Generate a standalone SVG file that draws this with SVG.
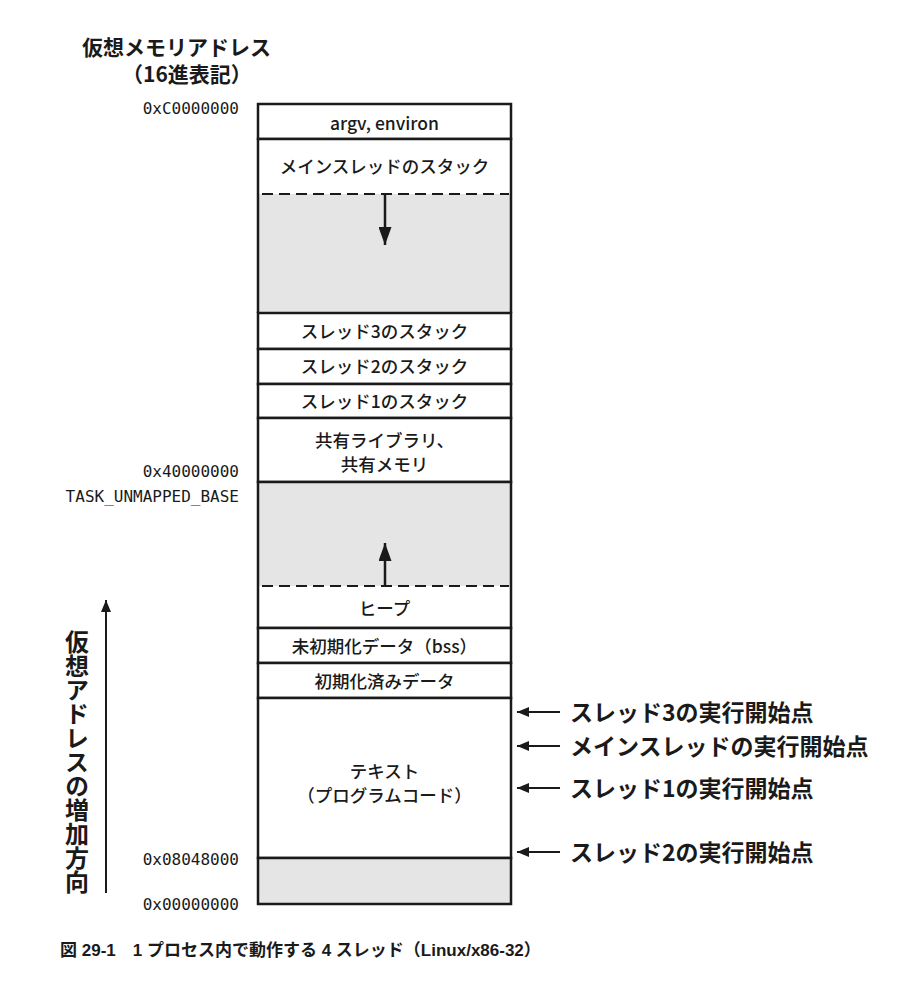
<svg xmlns="http://www.w3.org/2000/svg" width="904" height="992" viewBox="0 0 904 992">
<style>
.box{fill:#ffffff;stroke:#1a1a1a;stroke-width:2.5}
.open{fill:#ffffff;stroke:none}
.gray{fill:#e5e5e5;stroke:none}
.edge{stroke:#1a1a1a;stroke-width:2.5;fill:none}
.dash{stroke:#1a1a1a;stroke-width:2;stroke-dasharray:11 6;fill:none}
.lbl{font-family:"Noto Sans CJK JP","Noto Sans",sans-serif;font-size:17.5px;font-weight:500;fill:#1a1a1a;text-anchor:middle}
.addr{font-family:"DejaVu Sans Mono","Liberation Mono",monospace;font-size:16px;fill:#1a1a1a;text-anchor:end}
.side{font-family:"Noto Sans CJK JP",sans-serif;font-size:23px;font-weight:700;fill:#1a1a1a}
.title{font-family:"Noto Sans CJK JP",sans-serif;font-size:21px;font-weight:700;fill:#1a1a1a}
.cap{font-family:"Liberation Sans","Noto Sans CJK JP",sans-serif;font-size:17px;font-weight:700;fill:#1a1a1a}
.ln{stroke:#1a1a1a;stroke-width:2;fill:none}
.lnb{stroke:#1a1a1a;stroke-width:2.5;fill:none}
.ah{fill:#1a1a1a}
</style>
<defs>
<marker id="arr" viewBox="0 0 12 10" refX="12" refY="5" markerWidth="12" markerHeight="10" markerUnits="userSpaceOnUse" orient="auto">
<path d="M0,0 L12,5 L0,10 Z" class="ah"/>
</marker>
<marker id="arrb" viewBox="0 0 18 13" refX="18" refY="6.5" markerWidth="18" markerHeight="13" markerUnits="userSpaceOnUse" orient="auto">
<path d="M0,0 L18,6.5 L0,13 Z" class="ah"/>
</marker>
</defs>

<g id="title">
<text class="title" x="82" y="55">仮想メモリアドレス</text>
<text class="title" x="122" y="82">（16進表記）</text>
</g>

<g id="addresses">
<text class="addr" x="239" y="114">0xC0000000</text>
<text class="addr" x="239" y="477">0x40000000</text>
<text class="addr" x="239" y="502">TASK_UNMAPPED_BASE</text>
<text class="addr" x="239" y="865">0x08048000</text>
<text class="addr" x="239" y="910">0x00000000</text>
</g>

<g id="node-argv">
<rect class="box" x="258" y="104" width="253" height="35"/>
<text class="lbl" x="384.5" y="130">argv, environ</text>
</g>
<g id="node-mainstack">
<rect class="open" x="258" y="139" width="253" height="55"/>
<path class="edge" d="M258,194 V139 H511 V194"/>
<text class="lbl" x="384.5" y="173">メインスレッドのスタック</text>
</g>
<g id="node-gap1">
<rect class="gray" x="258" y="194" width="253" height="119"/>
<path class="edge" d="M258,194 V313 M511,194 V313"/>
<line class="dash" x1="262" y1="194" x2="509" y2="194"/>
</g>
<g id="node-t3stack">
<rect class="box" x="258" y="313" width="253" height="36"/>
<text class="lbl" x="384.5" y="338">スレッド3のスタック</text>
</g>
<g id="node-t2stack">
<rect class="box" x="258" y="349" width="253" height="35"/>
<text class="lbl" x="384.5" y="373">スレッド2のスタック</text>
</g>
<g id="node-t1stack">
<rect class="box" x="258" y="384" width="253" height="34"/>
<text class="lbl" x="384.5" y="408">スレッド1のスタック</text>
</g>
<g id="node-shlib">
<rect class="box" x="258" y="418" width="253" height="64"/>
<text class="lbl" x="384.5" y="447">共有ライブラリ、</text>
<text class="lbl" x="384.5" y="471">共有メモリ</text>
</g>
<g id="node-gap2">
<rect class="gray" x="258" y="482" width="253" height="104"/>
<path class="edge" d="M258,586 V482 H511 V586"/>
</g>
<g id="node-heap">
<rect class="open" x="258" y="586" width="253" height="42"/>
<path class="edge" d="M258,586 V628 H511 V586"/>
<line class="dash" x1="262" y1="586" x2="509" y2="586"/>
<text class="lbl" x="384.5" y="615">ヒープ</text>
</g>
<g id="node-bss">
<rect class="box" x="258" y="628" width="253" height="35"/>
<text class="lbl" x="384.5" y="653">未初期化データ（bss）</text>
</g>
<g id="node-data">
<rect class="box" x="258" y="663" width="253" height="35"/>
<text class="lbl" x="384.5" y="688">初期化済みデータ</text>
</g>
<g id="node-text">
<rect class="box" x="258" y="698" width="253" height="160"/>
<text class="lbl" x="384.5" y="778">テキスト</text>
<text class="lbl" x="384.5" y="802">（プログラムコード）</text>
</g>
<g id="node-gap3">
<rect class="gray" x="258" y="858" width="253" height="46"/>
<path class="edge" d="M258,858 V904 H511 V858 Z"/>
</g>

<g id="connectors">
<line class="lnb" x1="385" y1="195" x2="385" y2="245" marker-end="url(#arrb)"/>
<line class="lnb" x1="385" y1="585" x2="385" y2="543" marker-end="url(#arrb)"/>
<line class="ln" x1="106" y1="893" x2="106" y2="600" marker-end="url(#arr)"/>
<line class="ln" x1="560" y1="712" x2="517" y2="712" marker-end="url(#arr)"/>
<line class="ln" x1="560" y1="746" x2="517" y2="746" marker-end="url(#arr)"/>
<line class="ln" x1="560" y1="788" x2="517" y2="788" marker-end="url(#arr)"/>
<line class="ln" x1="560" y1="852" x2="517" y2="852" marker-end="url(#arr)"/>
</g>

<g id="side-labels">
<text class="side" x="570" y="721">スレッド3の実行開始点</text>
<text class="side" x="570" y="755">メインスレッドの実行開始点</text>
<text class="side" x="570" y="797">スレッド1の実行開始点</text>
<text class="side" x="570" y="861">スレッド2の実行開始点</text>
</g>

<g id="axis-label">
<text class="title" x="77" y="630" style="font-size:24px;writing-mode:vertical-rl;text-orientation:upright">仮想アドレスの増加方向</text>
</g>

<g id="caption">
<text class="cap" x="60" y="956">図 29-1　1 プロセス内で動作する 4 スレッド（Linux/x86-32）</text>
</g>
</svg>
